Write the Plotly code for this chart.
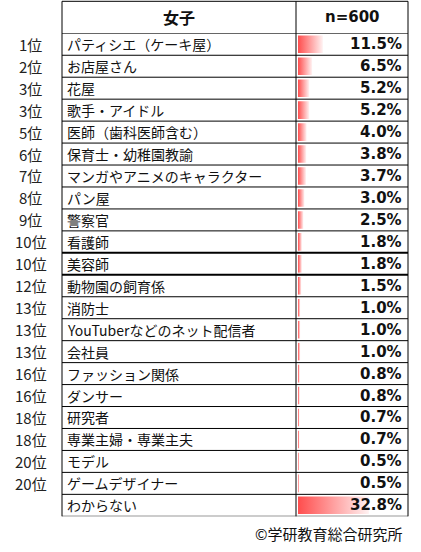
import plotly.graph_objects as go

ranks = ["1位", "2位", "3位", "3位", "5位", "6位", "7位", "8位", "9位", "10位", "10位",
         "12位", "13位", "13位", "13位", "16位", "16位", "18位", "18位", "20位", "20位", ""]
jobs = ["パティシエ（ケーキ屋）", "お店屋さん", "花屋", "歌手・アイドル", "医師（歯科医師含む）",
        "保育士・幼稚園教諭", "マンガやアニメのキャラクター", "パン屋", "警察官", "看護師", "美容師",
        "動物園の飼育係", "消防士", "YouTuberなどのネット配信者", "会社員", "ファッション関係",
        "ダンサー", "研究者", "専業主婦・専業主夫", "モデル", "ゲームデザイナー", "わからない"]
values = [11.5, 6.5, 5.2, 5.2, 4.0, 3.8, 3.7, 3.0, 2.5, 1.8, 1.8,
          1.5, 1.0, 1.0, 1.0, 0.8, 0.8, 0.7, 0.7, 0.5, 0.5, 32.8]
header = ["女子", "n=600"]
credit = "©学研教育総合研究所"

W, H = 421, 552
n = len(values)

# table geometry in pixels
x_left, x_mid, x_right = 62, 296, 408
y_top, y_rows, y_bottom = 1.3, 33.3, 516.3
bar_x0 = 298
px_per_pct = 2.16

def fx(p):
    return p / W

def fy(p):
    return (H - p) / H

jp = "Noto Sans CJK JP, DejaVu Sans, sans-serif"
num = "DejaVu Sans, Noto Sans CJK JP, sans-serif"

fig = go.Figure()

# data bars, gradient red -> white like Excel
for i, v in enumerate(values):
    fig.add_trace(go.Scatter(
        x=[0, v, v, 0, 0], y=[i - 0.4, i - 0.4, i + 0.4, i + 0.4, i - 0.4],
        mode="lines", line=dict(width=0), fill="toself",
        fillgradient=dict(type="horizontal",
                          colorscale=[[0, "#FF4D4D"], [1, "#FFF2F2"]]),
        hoverinfo="skip", showlegend=False))

shapes = []
for k in range(n + 1):
    yb = k - 0.5
    thick = k in (10, 11)
    shapes.append(dict(type="line", xref="paper", yref="y",
                       x0=fx(x_left), x1=fx(x_right), y0=yb, y1=yb,
                       line=dict(color="black", width=2 if thick else 1)))
shapes.append(dict(type="line", xref="paper", yref="paper",
                   x0=fx(x_left), x1=fx(x_right), y0=fy(y_top), y1=fy(y_top),
                   line=dict(color="black", width=1)))
for xv in (x_left, x_mid, x_right):
    shapes.append(dict(type="line", xref="paper", yref="paper",
                       x0=fx(xv), x1=fx(xv), y0=fy(y_bottom), y1=fy(y_top),
                       line=dict(color="black", width=1)))

ann = []
for i in range(n):
    ann.append(dict(x=fx(31), y=i, xref="paper", yref="y", text=ranks[i],
                    showarrow=False, xanchor="center",
                    font=dict(family=jp, size=15, color="#222")))
    ann.append(dict(x=fx(65), y=i, xref="paper", yref="y", text=jobs[i],
                    showarrow=False, xanchor="left",
                    font=dict(family=jp, size=14, color="#111")))
    ann.append(dict(x=fx(404), y=i, xref="paper", yref="y", text="<b>%.1f%%</b>" % values[i],
                    showarrow=False, xanchor="right",
                    font=dict(family=num, size=15, color="#111")))
hy = fy((y_top + y_rows) / 2)
ann.append(dict(x=fx((x_left + x_mid) / 2), y=hy, xref="paper", yref="paper",
                text="<b>%s</b>" % header[0], showarrow=False,
                xanchor="center", yanchor="middle",
                font=dict(family=jp, size=16, color="#111")))
ann.append(dict(x=fx((x_mid + x_right) / 2), y=hy, xref="paper", yref="paper",
                text="<b>%s</b>" % header[1], showarrow=False,
                xanchor="center", yanchor="middle",
                font=dict(family=num, size=15, color="#111")))
ann.append(dict(x=fx(404), y=fy(533), xref="paper", yref="paper", text=credit,
                showarrow=False, xanchor="right", yanchor="middle",
                font=dict(family=jp, size=15, color="#111")))

fig.update_layout(
    width=W, height=H, margin=dict(l=0, r=0, t=0, b=0),
    paper_bgcolor="white", plot_bgcolor="white",
    xaxis=dict(domain=[fx(bar_x0), fx(x_right)], range=[0, (x_right - bar_x0) / px_per_pct],
               visible=False, fixedrange=True),
    yaxis=dict(domain=[fy(y_bottom), fy(y_rows)], range=[n - 0.5, -0.5],
               visible=False, fixedrange=True),
    shapes=shapes, annotations=ann,
)

fig.write_html("out.html", config={"displayModeBar": False},
               post_script="document.body.style.margin='0';")
